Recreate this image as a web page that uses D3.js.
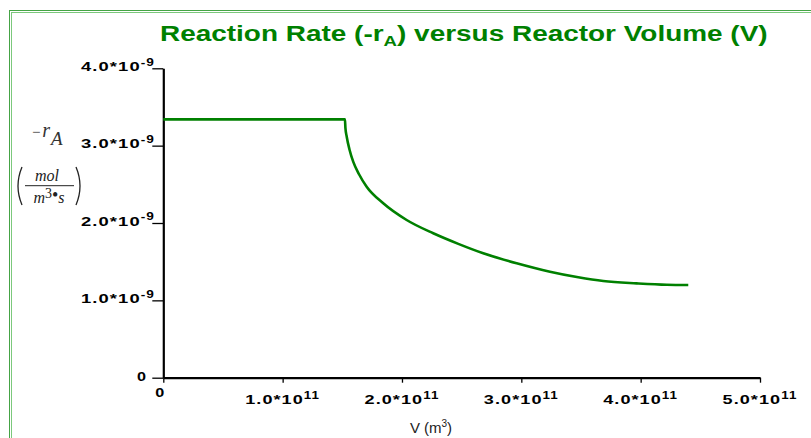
<!DOCTYPE html>
<html>
<head>
<meta charset="utf-8">
<script src="https://cdn.jsdelivr.net/npm/d3@7"></script>
<style>
  html, body { margin: 0; padding: 0; background: #fff; }
  svg { display: block; }
</style>
</head>
<body>
<svg id="chart" width="811" height="438"></svg>
<script>
// Reactor volume (m^3) and reaction rate -rA (mol/(m^3·s))
const volume = [0, 0.50e11, 1.00e11, 1.522e11, 1.526e11, 1.537e11, 1.560e11, 1.592e11, 1.640e11,
  1.704e11, 1.843e11, 2.039e11, 2.262e11, 2.472e11, 2.681e11, 2.961e11, 3.240e11, 3.477e11,
  3.687e11, 3.966e11, 4.218e11, 4.399e11];
const rate = [3.34e-9, 3.34e-9, 3.34e-9, 3.34e-9, 3.23e-9, 3.116e-9, 2.95e-9, 2.79e-9, 2.63e-9,
  2.469e-9, 2.255e-9, 2.039e-9, 1.867e-9, 1.730e-9, 1.608e-9, 1.479e-9, 1.370e-9, 1.298e-9,
  1.250e-9, 1.220e-9, 1.202e-9, 1.199e-9];

// Axis ticks and their labels
const xTicks = [0, 1e11, 2e11, 3e11, 4e11, 5e11];
const xTickMantissa = ["0", "1.0", "2.0", "3.0", "4.0", "5.0"];
const xTickExponent = "11";
const yTicks = [0, 1e-9, 2e-9, 3e-9, 4e-9];
const yTickMantissa = ["0", "1.0", "2.0", "3.0", "4.0"];
const yTickExponent = "-9";

const titleText = "Reaction Rate (-r";
const titleSub = "A";
const titleEnd = ") versus Reactor Volume (V)";

const svg = d3.select("#chart");
const green = "#008000";
const labelFont = "Arial, 'Liberation Sans', sans-serif";

// Double frame border
svg.append("rect").attr("x", 9.5).attr("y", 10.5).attr("width", 900).attr("height", 500)
  .attr("fill", "none").attr("stroke", "#45a345").attr("stroke-width", 1);
svg.append("rect").attr("x", 11.5).attr("y", 12.5).attr("width", 900).attr("height", 500)
  .attr("fill", "none").attr("stroke", "#7cc87c").attr("stroke-width", 1);

const x = d3.scaleLinear().domain([0, 5e11]).range([163.3, 760]);
const y = d3.scaleLinear().domain([0, 4e-9]).range([377.7, 68.3]);

// Y axis
const yAxis = svg.append("g").attr("transform", `translate(${x(0)},0)`)
  .call(d3.axisLeft(y).tickValues(yTicks).tickSize(11).tickSizeOuter(0).tickFormat(""));
yAxis.select(".domain").attr("stroke", "#000").attr("stroke-width", 2.2);
yAxis.selectAll(".tick line").attr("stroke", "#000").attr("stroke-width", 1.3);

// X axis
const xAxis = svg.append("g").attr("transform", `translate(0,${y(0)})`)
  .call(d3.axisBottom(x).tickValues(xTicks).tickSize(5).tickSizeOuter(0).tickFormat(""));
xAxis.select(".domain").attr("stroke", "#000").attr("stroke-width", 2.2);
xAxis.selectAll(".tick line").attr("stroke", "#000").attr("stroke-width", 1.3);

// Stretches a text horizontally so that it spans the given width
function stretchTo(t, width) {
  const w = t.node().getComputedTextLength();
  t.attr("transform", `scale(${width / w},1)`);
}

// Writes "m*10^e" style labels in a wide bold face
function sciLabel(g, mant, exp, anchor, width) {
  const t = g.append("text")
    .attr("font-family", labelFont).attr("font-weight", "bold")
    .attr("font-size", 13.5).attr("fill", "#000")
    .attr("letter-spacing", 0.8)
    .attr("text-anchor", anchor);
  if (mant === "0") { t.text("0").attr("transform", "scale(1.2,1)"); return t; }
  t.append("tspan").text(mant + "*10");
  t.append("tspan").attr("font-size", 10).attr("dy", -5.5).text(exp);
  stretchTo(t, width);
  return t;
}

yTicks.forEach((v, i) => {
  const g = svg.append("g").attr("transform", `translate(${i === 0 ? 147 : 155},${y(v) + 2.8})`);
  sciLabel(g, yTickMantissa[i], yTickExponent, "end", 74);
});

xTicks.forEach((v, i) => {
  const g = svg.append("g").attr("transform", i === 0
    ? `translate(${x(v) - 3},396.5)` : `translate(${x(v)},404)`);
  sciLabel(g, xTickMantissa[i], xTickExponent, "middle", 75);
});

// Rate curve
const line = d3.line().x((d, i) => x(volume[i])).y((d, i) => y(rate[i]))
  .curve(d3.curveMonotoneX);
svg.append("path").datum(volume).attr("d", line)
  .attr("fill", "none").attr("stroke", green).attr("stroke-width", 2.6)
  .attr("stroke-linejoin", "miter");

// Title in a wide bold face spanning its full width
const titleG = svg.append("g").attr("transform", "translate(160,41)");
const title = titleG.append("text").attr("x", 0).attr("y", 0)
  .attr("text-anchor", "start").attr("font-family", labelFont)
  .attr("font-weight", "bold").attr("font-size", 22.5).attr("fill", green);
title.append("tspan").text(titleText);
title.append("tspan").attr("font-size", 15).attr("dy", 5).text(titleSub);
title.append("tspan").attr("dy", -5).text(titleEnd);
stretchTo(title, 608);

// X axis title
const xt = svg.append("text").attr("x", 431).attr("y", 433)
  .attr("text-anchor", "middle").attr("font-family", labelFont)
  .attr("font-size", 15).attr("fill", "#222");
xt.append("tspan").text("V (m");
xt.append("tspan").attr("font-size", 10).attr("dy", -6).text("3");
xt.append("tspan").attr("dy", 6).text(")");

// Y axis title: -r_A and units (mol / (m^3 · s))
const serif = "'Liberation Serif', 'DejaVu Serif', serif";
const ra = svg.append("text").attr("x", 31).attr("y", 140)
  .attr("font-family", serif).attr("font-style", "italic").attr("font-size", 20).attr("fill", "#333");
ra.append("tspan").attr("font-size", 15).attr("dy", -3).text("\u2212");
ra.append("tspan").attr("dx", 1).text("r");
ra.append("tspan").attr("dy", 8).attr("dx", 1).attr("font-size", 19).text("A");

const units = svg.append("g").attr("fill", "#222");
units.append("text").attr("x", 47).attr("y", 181).attr("text-anchor", "middle")
  .attr("font-family", serif).attr("font-style", "italic").attr("font-size", 16).text("mol");
units.append("line").attr("x1", 25).attr("x2", 74).attr("y1", 185.7).attr("y2", 185.7)
  .attr("stroke", "#222").attr("stroke-width", 1);
const den = units.append("text").attr("x", 49).attr("y", 203).attr("text-anchor", "middle")
  .attr("font-family", serif).attr("font-style", "italic").attr("font-size", 16);
den.append("tspan").text("m");
den.append("tspan").attr("font-size", 14).attr("font-style", "normal").attr("dy", -5).text("3");
den.append("tspan").attr("font-style", "normal").attr("font-size", 18).attr("dy", 3).text("\u2022");
den.append("tspan").attr("dy", 2).text("s");
// Large parentheses round the fraction
units.append("path").attr("d", "M22,167 Q14,186 22,205").attr("fill", "none").attr("stroke", "#222").attr("stroke-width", 1.3);
units.append("path").attr("d", "M76,167 Q84,186 76,205").attr("fill", "none").attr("stroke", "#222").attr("stroke-width", 1.3);
</script>
</body>
</html>
